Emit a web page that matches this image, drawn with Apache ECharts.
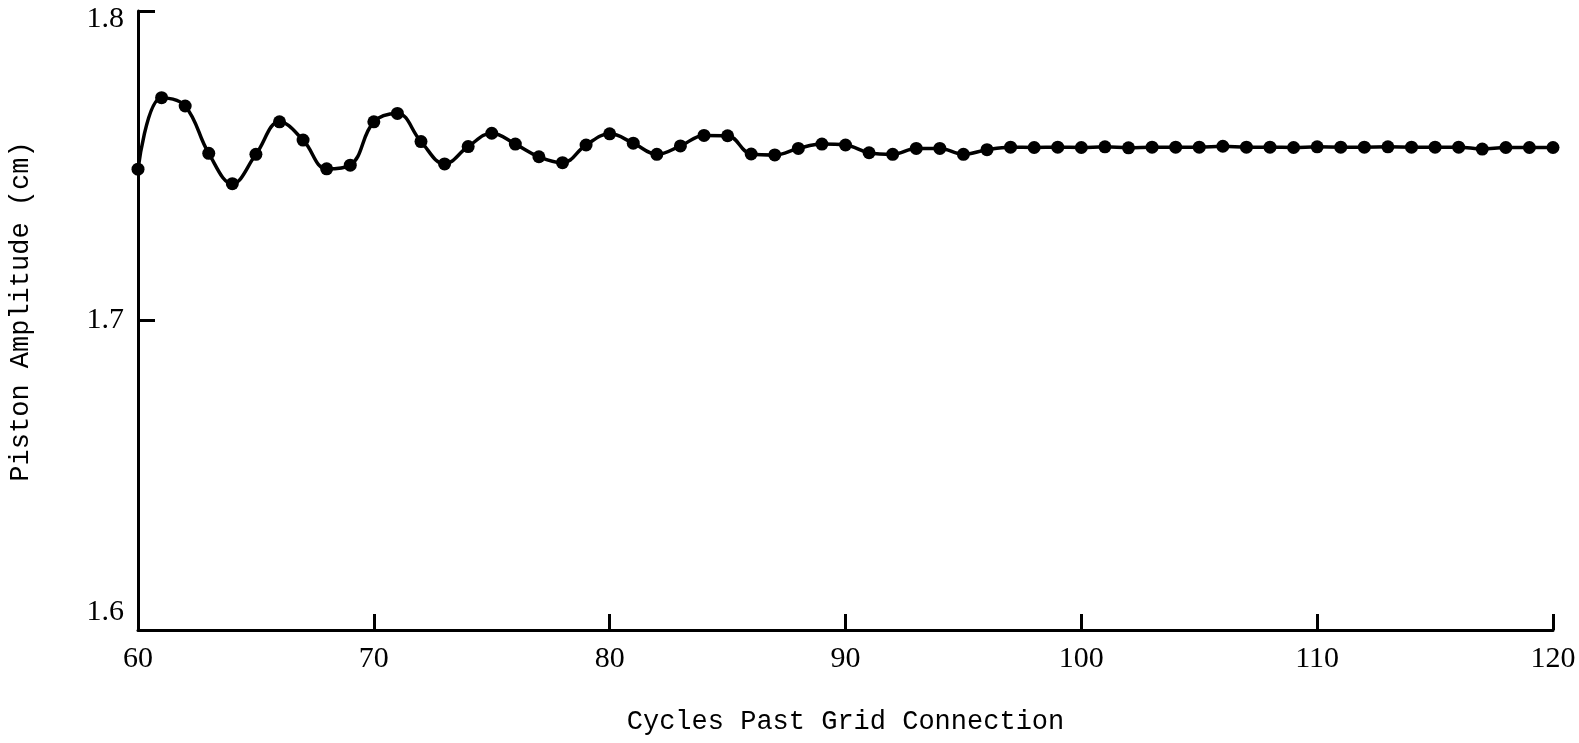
<!DOCTYPE html>
<html>
<head>
<meta charset="utf-8">
<script src="https://cdn.jsdelivr.net/npm/echarts@6/dist/echarts.min.js"></script>
<style>
html,body{margin:0;padding:0;background:#fff;}
#chart{width:1579px;height:743px;}
</style>
</head>
<body>
<div id="chart"></div>
<script>
// Cycles past grid connection (x) and piston amplitude in cm (y)
var cycles = [60,61,62,63,64,65,66,67,68,69,70,71,72,73,74,75,76,77,78,79,80,81,82,83,84,85,86,87,88,89,90,91,92,93,94,95,96,97,98,99,100,101,102,103,104,105,106,107,108,109,110,111,112,113,114,115,116,117,118,119,120];
var amplitude = [1.7489,1.7720,1.7693,1.7540,1.7442,1.7537,1.7642,1.7583,1.7490,1.7502,
  1.7642,1.7669,1.7578,1.7506,1.7562,1.7605,1.7570,1.7529,1.7510,1.7567,
  1.7603,1.7573,1.7537,1.7564,1.7598,1.7597,1.7538,1.7535,1.7556,1.7570,
  1.7567,1.7542,1.7537,1.7556,1.7556,1.7537,1.7552,1.7560,1.7559,1.7560,
  1.7559,1.7561,1.7558,1.7560,1.7560,1.7560,1.7563,1.7560,1.7560,1.7559,
  1.7561,1.7560,1.7560,1.7561,1.7560,1.7560,1.7560,1.7554,1.7559,1.7559,1.7559];
var xTicks = [60,70,80,90,100,110,120];
var yTicks = [1.6,1.7,1.8];

var points = cycles.map(function(c,i){return [c, amplitude[i]];});

var labelFont = {fontFamily:'Liberation Serif', fontSize:30, color:'#000'};
var chart = echarts.init(document.getElementById('chart'), null, {renderer:'canvas'});
chart.setOption({
  animation:false,
  backgroundColor:'#ffffff',
  grid:{left:138, right:26, top:11, bottom:113, containLabel:false, outerBoundsMode:'none'},
  xAxis:{
    type:'value', min:xTicks[0], max:xTicks[xTicks.length-1], interval:10,
    name:'Cycles Past Grid Connection', nameLocation:'middle', nameGap:78,
    nameTextStyle:{fontFamily:'Liberation Mono', fontSize:27, color:'#000'},
    axisLine:{show:true, lineStyle:{color:'#000', width:3}},
    axisTick:{show:true, inside:true, length:16, lineStyle:{color:'#000', width:3}},
    axisLabel:{fontFamily:'Liberation Serif', fontSize:30, color:'#000', margin:14},
    splitLine:{show:false}
  },
  yAxis:{
    type:'value', min:yTicks[0], max:yTicks[yTicks.length-1], interval:0.1,
    name:'Piston Amplitude (cm)', nameLocation:'middle', nameGap:104, nameRotate:90,
    nameTextStyle:{fontFamily:'Liberation Mono', fontSize:27, color:'#000', padding:[0,0,0,18]},
    axisLine:{show:true, lineStyle:{color:'#000', width:3}},
    axisTick:{show:true, inside:true, length:17, lineStyle:{color:'#000', width:3}},
    axisLabel:{fontFamily:'Liberation Serif', fontSize:30, color:'#000', margin:14,
      formatter:function(v){
        var s = v.toFixed(1);
        if (s === '1.8') return '{top|' + s + '}';
        if (s === '1.6') return '{bot|' + s + '}';
        return s;
      },
      rich:{
        top:Object.assign({padding:[16,0,0,0]}, labelFont),
        bot:Object.assign({padding:[0,0,36,0]}, labelFont)
      }
    },
    splitLine:{show:false}
  },
  series:[{
    type:'line', data:points, smooth:0.4,
    symbol:'circle', symbolSize:13, showSymbol:true,
    lineStyle:{color:'#000', width:3.5},
    itemStyle:{color:'#000', borderWidth:0}
  }]
});
</script>
</body>
</html>
